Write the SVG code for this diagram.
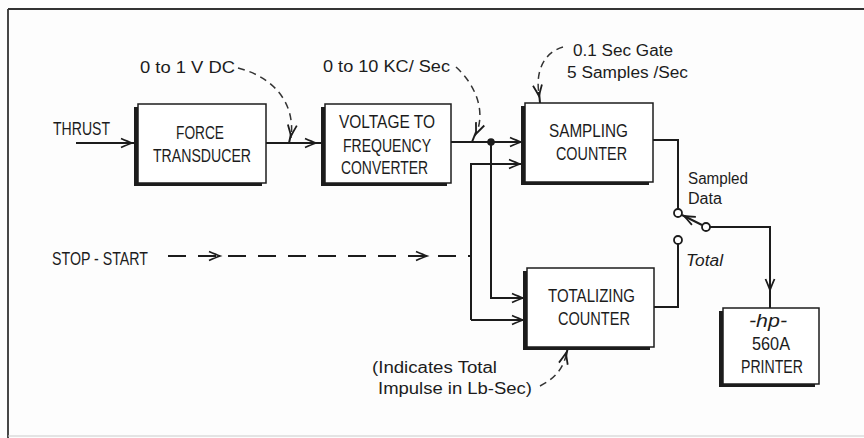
<svg xmlns="http://www.w3.org/2000/svg" xmlns:xlink="http://www.w3.org/1999/xlink" width="864" height="438" viewBox="0 0 864 438">
<style>
  .box { fill: #ffffff; stroke: #1c1c1c; stroke-width: 1.5; }
  .shadow { fill: #1c1c1c; }
  .wire { fill: none; stroke: #1c1c1c; stroke-width: 2; }
  .dash { fill: none; stroke: #333; stroke-width: 1.5; stroke-dasharray: 7 5; }
  .ddash { fill: none; stroke: #1c1c1c; stroke-width: 2; stroke-dasharray: 18 12; }
  .term { fill: #ffffff; stroke: #1c1c1c; stroke-width: 1.8; }
  text { font-family: "Liberation Sans", Arial, sans-serif; fill: #1c1c1c; }
  .cap { font-size: 18px; }
  .lc { font-size: 16px; }
  .it { font-style: italic; }
</style>
<defs>
  <path id="ah" d="M-11,-4.5 Q-4,-1.5 0,0 Q-4,1.5 -11,4.5" fill="none" stroke="#1c1c1c" stroke-width="1.8"/>
</defs>
<rect x="0" y="0" width="864" height="438" fill="#fdfdfd"/>
<g id="frame">
  <line x1="8" y1="9" x2="864" y2="9" stroke="#333" stroke-width="1.8"/>
  <line x1="8" y1="9" x2="8" y2="438" stroke="#333" stroke-width="1.8"/>
  <line x1="8" y1="436" x2="864" y2="436" stroke="#ccc" stroke-width="1.2"/>
</g>

<g id="connectors">
  <!-- THRUST input -->
  <line class="wire" x1="76" y1="143" x2="138" y2="143"/>
  <use xlink:href="#ah" transform="translate(132,143)"/>
  <!-- FT -> VF -->
  <line class="wire" x1="266" y1="143" x2="325" y2="143"/>
  <use xlink:href="#ah" transform="translate(316,143)"/>
  <!-- VF -> SC -->
  <line class="wire" x1="451" y1="142" x2="525" y2="142"/>
  <use xlink:href="#ah" transform="translate(521,142)"/>
  <circle cx="491" cy="142" r="3.8" fill="#1c1c1c"/>
  <!-- second SC input -->
  <polyline class="wire" points="471,320 471,164 525,164"/>
  <use xlink:href="#ah" transform="translate(520,164)"/>
  <!-- junction down to TC -->
  <polyline class="wire" points="491,142 491,298 527,298"/>
  <use xlink:href="#ah" transform="translate(523,298)"/>
  <!-- x=471 to TC -->
  <polyline class="wire" points="471,320 527,320"/>
  <use xlink:href="#ah" transform="translate(523,320)"/>
  <!-- STOP-START dashed -->
  <line class="ddash" x1="168" y1="256" x2="471" y2="256"/>
  <use xlink:href="#ah" transform="translate(220,256)"/>
  <use xlink:href="#ah" transform="translate(427,256)"/>
  <!-- SC output to switch -->
  <polyline class="wire" points="653,140 678,140 678,209"/>
  <circle class="term" cx="678" cy="213" r="4"/>
  <!-- TC output to switch -->
  <polyline class="wire" points="654,307 678,307 678,244"/>
  <circle class="term" cx="678" cy="240" r="4"/>
  <!-- switch arm -->
  <line class="wire" x1="702" y1="225" x2="682" y2="215"/>
  <use xlink:href="#ah" transform="translate(684,216) rotate(206)"/>
  <circle class="term" cx="706" cy="227" r="4"/>
  <!-- to printer -->
  <polyline class="wire" points="710,227 770,227 770,308"/>
  <use xlink:href="#ah" transform="translate(770,290) rotate(90)"/>

  <!-- annotation pointers -->
  <path class="dash" d="M238,68 C270,76 296,100 291,138"/>
  <line class="wire" x1="291" y1="134" x2="289" y2="143" stroke-width="1.6"/>
  <use xlink:href="#ah" transform="translate(291,136) rotate(97)"/>

  <path class="dash" d="M456,67 C476,85 486,112 476,134"/>
  <line class="wire" x1="476" y1="132" x2="472" y2="142" stroke-width="1.6"/>
  <use xlink:href="#ah" transform="translate(476,134) rotate(112)"/>

  <path class="dash" d="M563,47 C545,52 535,70 539,94"/>
  <line class="wire" x1="539" y1="92" x2="540" y2="103" stroke-width="1.6"/>
  <use xlink:href="#ah" transform="translate(539,96) rotate(82)"/>

  <path class="dash" d="M540,386 C554,379 562,370 566,356"/>
  <line class="wire" x1="566" y1="356" x2="568" y2="347" stroke-width="1.6"/>
  <use xlink:href="#ah" transform="translate(566,353) rotate(-76)"/>
</g>

<g id="force-transducer">
  <rect class="shadow" x="134" y="107" width="128" height="79"/>
  <rect class="box" x="138" y="104" width="128" height="79"/>
  <text class="cap" x="176" y="139" textLength="48" lengthAdjust="spacingAndGlyphs">FORCE</text>
  <text class="cap" x="153" y="162" textLength="98" lengthAdjust="spacingAndGlyphs">TRANSDUCER</text>
</g>

<g id="voltage-to-frequency">
  <rect class="shadow" x="321" y="107" width="126" height="79"/>
  <rect class="box" x="325" y="104" width="126" height="79"/>
  <text class="cap" x="339" y="128" textLength="96" lengthAdjust="spacingAndGlyphs">VOLTAGE  TO</text>
  <text class="cap" x="343" y="152" textLength="88" lengthAdjust="spacingAndGlyphs">FREQUENCY</text>
  <text class="cap" x="341" y="174" textLength="87" lengthAdjust="spacingAndGlyphs">CONVERTER</text>
</g>

<g id="sampling-counter">
  <rect class="shadow" x="521" y="106" width="128" height="79"/>
  <rect class="box" x="525" y="103" width="128" height="79"/>
  <text class="cap" x="549" y="137" textLength="79" lengthAdjust="spacingAndGlyphs">SAMPLING</text>
  <text class="cap" x="556" y="160" textLength="71" lengthAdjust="spacingAndGlyphs">COUNTER</text>
</g>

<g id="totalizing-counter">
  <rect class="shadow" x="523" y="271" width="127" height="79"/>
  <rect class="box" x="527" y="268" width="127" height="79"/>
  <text class="cap" x="548" y="302" textLength="87" lengthAdjust="spacingAndGlyphs">TOTALIZING</text>
  <text class="cap" x="558" y="325" textLength="72" lengthAdjust="spacingAndGlyphs">COUNTER</text>
</g>

<g id="printer">
  <rect class="shadow" x="719" y="311" width="96" height="76"/>
  <rect class="box" x="723" y="308" width="96" height="76"/>
  <text class="cap it" x="749" y="327" textLength="38" lengthAdjust="spacingAndGlyphs">-hp-</text>
  <text class="cap" x="752" y="350" textLength="38" lengthAdjust="spacingAndGlyphs">560A</text>
  <text class="cap" x="741" y="373" textLength="62" lengthAdjust="spacingAndGlyphs">PRINTER</text>
</g>

<g id="labels">
  <text class="cap" x="53" y="135" textLength="57" lengthAdjust="spacingAndGlyphs">THRUST</text>
  <text class="cap" x="52" y="265" textLength="96" lengthAdjust="spacingAndGlyphs">STOP - START</text>
  <text class="lc" x="140" y="73" textLength="95" lengthAdjust="spacingAndGlyphs">0 to 1 V DC</text>
  <text class="lc" x="323" y="72" textLength="127" lengthAdjust="spacingAndGlyphs">0 to 10 KC/ Sec</text>
  <text class="lc" x="573" y="56" textLength="100" lengthAdjust="spacingAndGlyphs">0.1 Sec Gate</text>
  <text class="lc" x="567" y="78" textLength="121" lengthAdjust="spacingAndGlyphs">5 Samples /Sec</text>
  <text class="lc" x="688" y="184" textLength="60" lengthAdjust="spacingAndGlyphs">Sampled</text>
  <text class="lc" x="688" y="204" textLength="34" lengthAdjust="spacingAndGlyphs">Data</text>
  <text class="lc it" x="686" y="266" textLength="37" lengthAdjust="spacingAndGlyphs">Total</text>
  <text class="lc" x="372" y="373" textLength="125" lengthAdjust="spacingAndGlyphs">(Indicates Total</text>
  <text class="lc" x="378" y="394" textLength="154" lengthAdjust="spacingAndGlyphs">Impulse in Lb-Sec)</text>
</g>
</svg>
